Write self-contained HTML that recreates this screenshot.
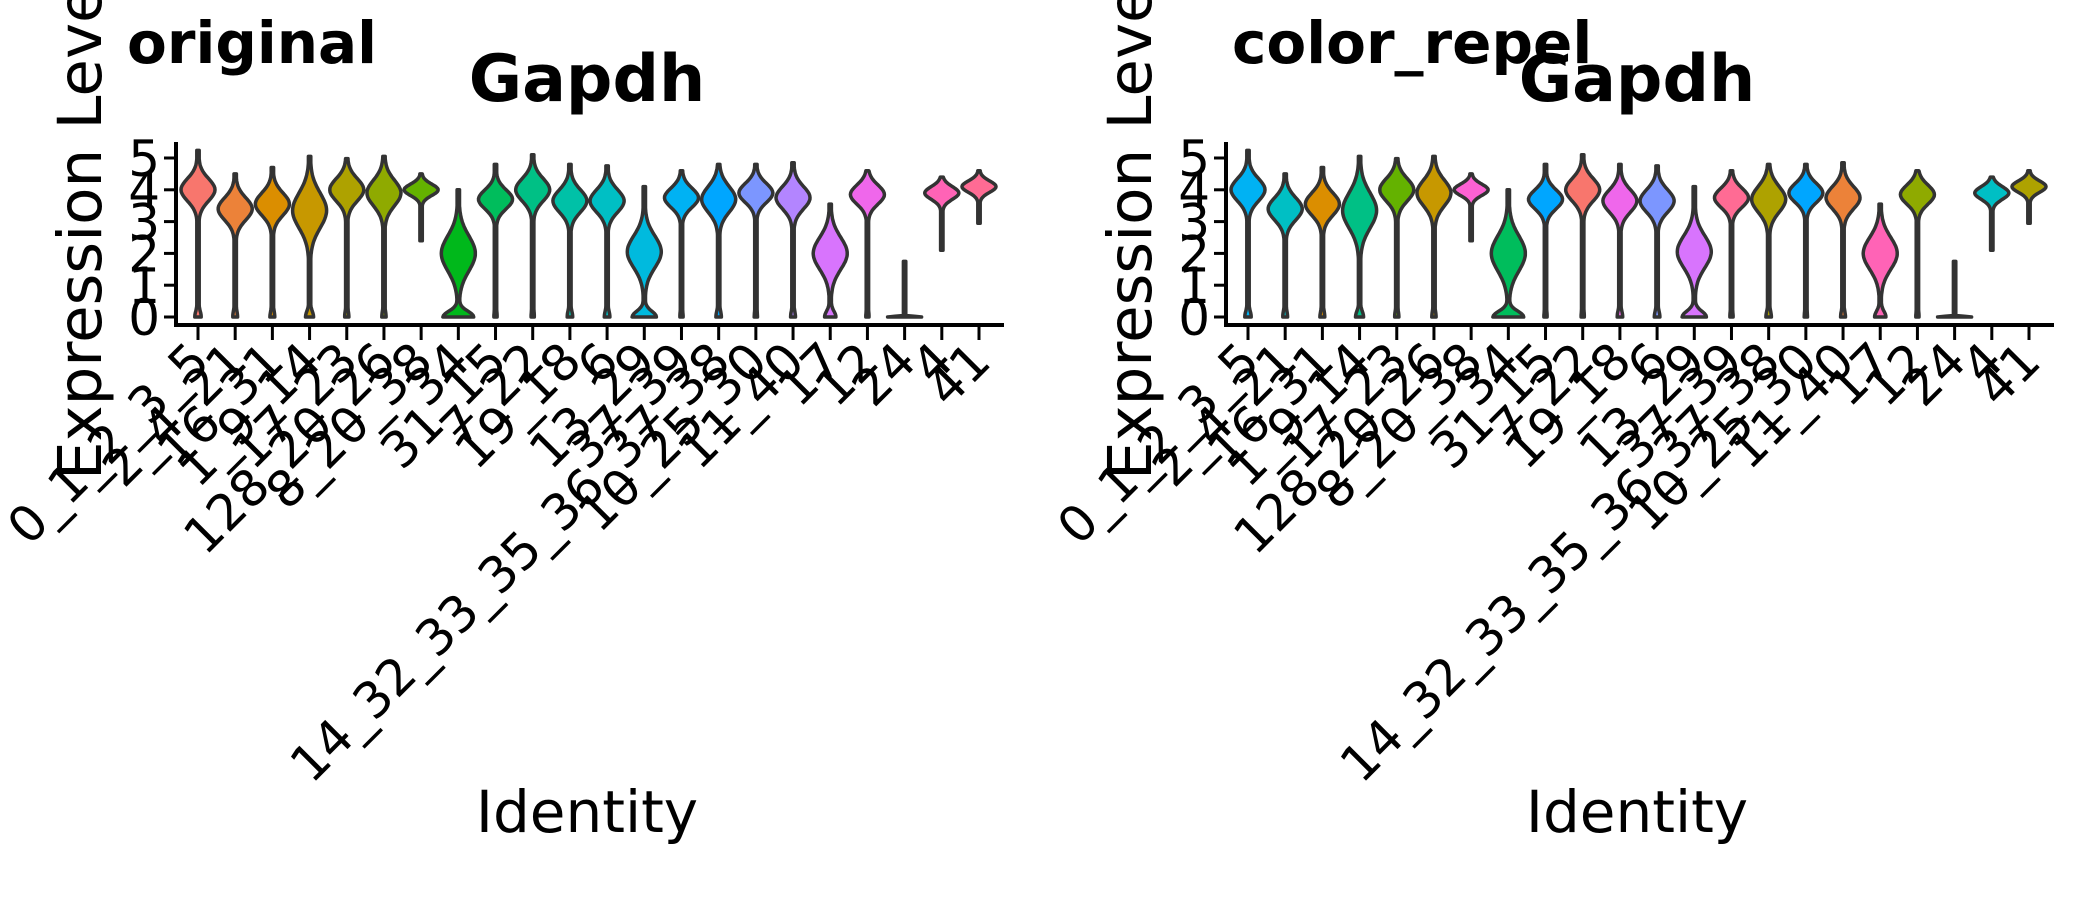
<!DOCTYPE html>
<html><head><meta charset="utf-8"><style>
html,body{margin:0;padding:0;background:#fff;}
svg{display:block;font-family:"DejaVu Sans","Liberation Sans",sans-serif;}
</style></head><body>
<svg id="chart" width="2100" height="900" viewBox="0 0 2100 900"></svg>
<script>
// ---- data ----
const categories = ["0_1_2_3_5","2_4_21","16_31","1_9_14","17_23","128_20_26","8_20_38","34","31_15","7_22","19_18","6","13_29","37_39","14_32_33_35_36_37_38","10_25_30","11_40","17","12","24","4","41"];
const tops    = [5.24,4.5,4.7,5.05,4.98,5.05,4.5,4.0,4.8,5.1,4.8,4.75,4.1,4.6,4.8,4.8,4.85,3.55,4.6,1.75,4.4,4.6];
const bottoms = [0,0,0,0,0,0,2.4,0,0,0,0,0,0,0,0,0,0,0,0,0,2.1,2.95];
const peaks   = [4.0,3.4,3.55,3.35,4.0,3.9,4.0,2.0,3.7,4.0,3.65,3.65,2.05,3.75,3.7,3.9,3.75,2.0,3.85,0,3.9,4.1];
const spreads = [0.35,0.35,0.35,0.55,0.35,0.4,0.18,0.55,0.3,0.35,0.35,0.35,0.5,0.3,0.4,0.3,0.35,0.5,0.3,0.02,0.2,0.18];
const zeroBulge = [0.15,0.1,0.1,0.2,0.08,0.08,0,0.9,0.05,0.05,0.12,0.12,0.7,0.05,0.12,0.05,0.1,0.3,0.05,0,0,0];
const yTicks = [0,1,2,3,4,5];
const rightColorIndex = [13,11,2,9,6,3,19,8,14,0,18,15,17,21,4,14,1,20,5,11,11,4];

function hcl(h,c,l){
  const hr=h*Math.PI/180, u=c*Math.cos(hr), v=c*Math.sin(hr);
  const un=0.19784,vn=0.46834;
  const Y = l>8 ? Math.pow((l+16)/116,3) : l/903.3;
  const up=u/(13*l)+un, vp=v/(13*l)+vn;
  const X=Y*9*up/(4*vp), Z=Y*(12-3*up-20*vp)/(4*vp);
  let r=3.2406*X-1.5372*Y-0.4986*Z, g=-0.9689*X+1.8758*Y+0.0415*Z, b=0.0557*X-0.2040*Y+1.0570*Z;
  const f=x=>{x=x<=0.0031308?12.92*x:1.055*Math.pow(x,1/2.4)-0.055;return Math.round(Math.max(0,Math.min(1,x))*255);};
  return `rgb(${f(r)},${f(g)},${f(b)})`;
}
const n=categories.length;
const palette=[]; for(let i=0;i<n;i++) palette.push(hcl(15+360*i/n,100,65));

const svg=document.getElementById('chart');
const NS='http://www.w3.org/2000/svg';
function mk(tag,attrs,parent){const e=document.createElementNS(NS,tag);for(const k in attrs)e.setAttribute(k,attrs[k]);(parent||svg).appendChild(e);return e;}

function panel(ox, tag, tagX, colorFn, nameP){
  const g=mk('g',{transform:`translate(${ox},0)`});
  
  
  const x0=198, step=(979-198)/(n-1);
  const xs=i=>x0+i*step;
  const ys=v=>317-v*31.8;
  let t=mk('text',{x:101,y:480,'font-size':61,fill:'#000',transform:'rotate(-90 101 480)'},g);t.textContent='Expression Level';
   
  t=mk('text',{x:tagX,y:63,'font-size':58,'font-weight':'bold',fill:'#000'},g);t.textContent=tag;
   
  t=mk('text',{x:587,y:101,'font-size':65,'font-weight':'bold','text-anchor':'middle',fill:'#000'},g);t.textContent='Gapdh';
   
  let a=mk('path',{d:`M176,142 V325 H1004`,stroke:'#000','stroke-width':4,fill:'none'},g);
   
  yTicks.forEach(v=>{
    mk('line',{x1:164,x2:176,y1:ys(v),y2:ys(v),stroke:'#000','stroke-width':3},g);
    const tl=mk('text',{x:160,y:ys(v)+18,'font-size':50,'text-anchor':'end',fill:'#000'},g);tl.textContent=v;
     
  });
  categories.forEach((c,i)=>{
    const x=xs(i);
    mk('line',{x1:x,x2:x,y1:325,y2:340,stroke:'#000','stroke-width':3},g);
    const tl=mk('text',{x:x+14,y:364,'font-size':50,'text-anchor':'end',fill:'#000',transform:`rotate(-45 ${x+14} 364)`},g);
    tl.textContent=c;
     
    const lo=bottoms[i], hi=tops[i], N=80;
    const dens=[];let mx=0;
    for(let k=0;k<=N;k++){
      const v=lo+(hi-lo)*k/N;
      let d=Math.exp(-0.5*Math.pow((v-peaks[i])/spreads[i],2))+zeroBulge[i]*Math.exp(-0.5*Math.pow(v/0.18,2))+0.05;
      dens.push([v,d]); if(d>mx)mx=d;
    }
    const hw=17;
    let L=[],R=[];
    dens.forEach(([v,d])=>{const w=Math.max(1.2,hw*d/mx);L.push([x-w,ys(v)]);R.push([x+w,ys(v)]);});
    let d='M'+R.map(p=>p[0].toFixed(1)+','+p[1].toFixed(1)).join(' L')+' L'+L.reverse().map(p=>p[0].toFixed(1)+','+p[1].toFixed(1)).join(' L')+'Z';
    const vp=mk('path',{d:d,fill:colorFn(i),stroke:'#333','stroke-width':3.5,'stroke-linejoin':'round'},g);
     
  });
  t=mk('text',{x:587,y:832,'font-size':58,'text-anchor':'middle',fill:'#000'},g);t.textContent='Identity';
   
}
panel(0,'original',127,i=>palette[i],'original');
panel(1050,'color_repel',182,i=>palette[rightColorIndex[i]],'color-repel');
</script>
</body></html>
